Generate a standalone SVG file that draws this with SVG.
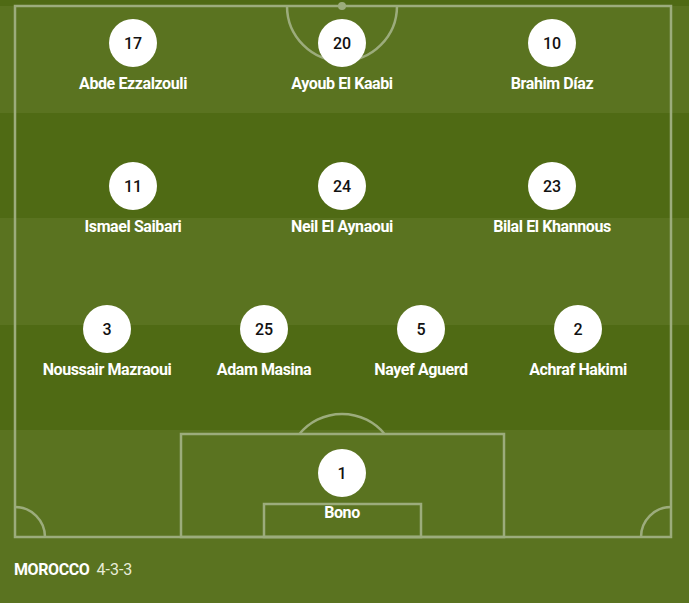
<svg xmlns="http://www.w3.org/2000/svg" width="689" height="603" viewBox="0 0 689 603">
<style>
.line{fill:none;stroke:#9cac7c;stroke-width:2.5}
.disc{fill:#ffffff}
.num{font-family:Roboto,"Liberation Sans",sans-serif;font-size:16px;font-weight:500;fill:#111111;text-anchor:middle;dominant-baseline:central}
.name{font-family:Roboto,"Liberation Sans",sans-serif;font-size:16px;font-weight:700;fill:#ffffff;text-anchor:middle;letter-spacing:-0.4px}
</style>
<rect width="689" height="603" fill="#5a7320"/>
<g id="stripes">
<rect x="0" y="0" width="689" height="6" fill="#4f6a14"/>
<rect x="0" y="113" width="689" height="105" fill="#4f6a14"/>
<rect x="0" y="325" width="689" height="105" fill="#4f6a14"/>
</g>
<g id="pitch-lines">
<rect class="line" x="15" y="6" width="656" height="531"/>
<path class="line" d="M287 6 A55 55 0 0 0 397 6"/>
<circle cx="342" cy="6" r="4" fill="#9cac7c"/>
<rect class="line" x="181" y="434" width="323" height="103"/>
<rect class="line" x="264" y="504" width="157" height="33"/>
<path class="line" d="M299.5 434 A55 55 0 0 1 384.5 434"/>
<path class="line" d="M15 507 A30 30 0 0 1 45 537"/>
<path class="line" d="M671 507 A30 30 0 0 0 641 537"/>
</g>
<g id="p17"><circle class="disc" cx="133" cy="43" r="24"/><text class="num" x="133" y="43">17</text><text class="name" x="133" y="89">Abde Ezzalzouli</text></g>
<g id="p20"><circle class="disc" cx="342" cy="43" r="24"/><text class="num" x="342" y="43">20</text><text class="name" x="342" y="89">Ayoub El Kaabi</text></g>
<g id="p10"><circle class="disc" cx="552" cy="43" r="24"/><text class="num" x="552" y="43">10</text><text class="name" x="552" y="89">Brahim Díaz</text></g>
<g id="p11"><circle class="disc" cx="133" cy="186" r="24"/><text class="num" x="133" y="186">11</text><text class="name" x="133" y="232">Ismael Saibari</text></g>
<g id="p24"><circle class="disc" cx="342" cy="186" r="24"/><text class="num" x="342" y="186">24</text><text class="name" x="342" y="232">Neil El Aynaoui</text></g>
<g id="p23"><circle class="disc" cx="552" cy="186" r="24"/><text class="num" x="552" y="186">23</text><text class="name" x="552" y="232">Bilal El Khannous</text></g>
<g id="p3"><circle class="disc" cx="107" cy="329" r="24"/><text class="num" x="107" y="329">3</text><text class="name" x="107" y="375">Noussair Mazraoui</text></g>
<g id="p25"><circle class="disc" cx="264" cy="329" r="24"/><text class="num" x="264" y="329">25</text><text class="name" x="264" y="375">Adam Masina</text></g>
<g id="p5"><circle class="disc" cx="421" cy="329" r="24"/><text class="num" x="421" y="329">5</text><text class="name" x="421" y="375">Nayef Aguerd</text></g>
<g id="p2"><circle class="disc" cx="578" cy="329" r="24"/><text class="num" x="578" y="329">2</text><text class="name" x="578" y="375">Achraf Hakimi</text></g>
<g id="p1"><circle class="disc" cx="342" cy="473" r="24"/><text class="num" x="342" y="473">1</text><text class="name" x="342" y="518">Bono</text></g>
<g id="caption"><text x="14" y="575" font-family="Roboto,'Liberation Sans',sans-serif" font-size="16" fill="#ffffff"><tspan font-weight="700" letter-spacing="-0.4">MOROCCO</tspan><tspan dx="7" fill="#e8ecd8">4-3-3</tspan></text></g>
</svg>
